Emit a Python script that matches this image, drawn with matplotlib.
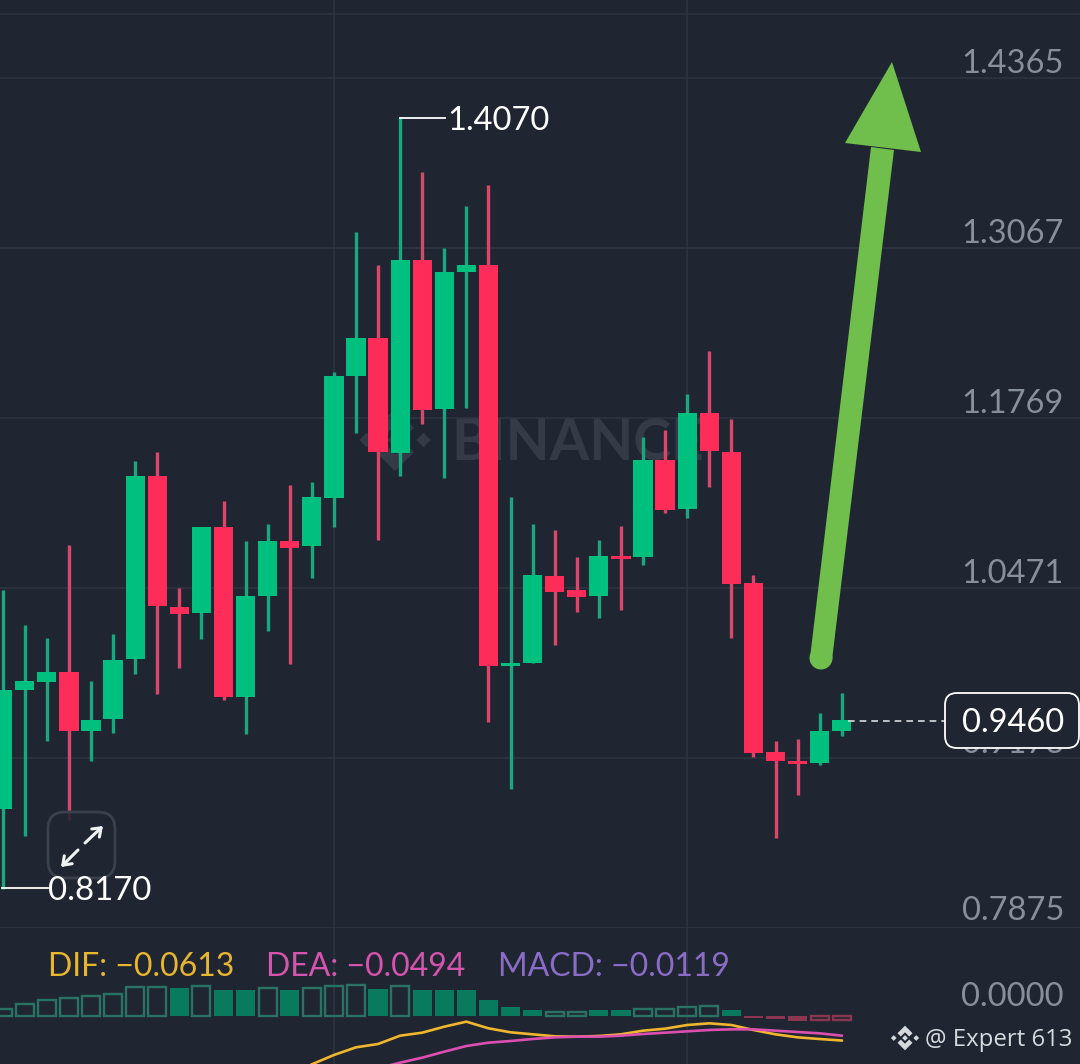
import numpy as np
import matplotlib
matplotlib.use("Agg")
import matplotlib.pyplot as plt
from matplotlib.patches import FancyBboxPatch, Polygon, Circle

# candles
opens = [0.8784, 0.9692, 0.9753, 0.9830, 0.9379, 0.9471, 0.9929, 1.1326, 1.0326, 1.0280,
         1.0937, 0.9639, 1.0410, 1.0830, 1.0792, 1.1158, 1.2090, 1.2380, 1.1502, 1.2975,
         1.1838, 1.2884, 1.2937, 0.9876, 0.9898, 1.0563, 1.0456, 1.0410, 1.0715, 1.0708,
         1.1448, 1.1074, 1.1807, 1.1509, 1.0509, 0.9219, 0.9150, 0.9135, 0.9379]
highs = [1.0456, 1.0189, 1.0089, 1.0799, 0.9761, 1.0120, 1.1441, 1.1509, 1.0471, 1.0937,
         1.1135, 1.0830, 1.0960, 1.1257, 1.1280, 1.2120, 1.3189, 1.2937, 1.4070, 1.3647,
         1.3067, 1.3388, 1.3548, 1.1166, 1.0960, 1.0914, 1.0708, 1.0837, 1.0944, 1.1624,
         1.1677, 1.1952, 1.2281, 1.1761, 1.0570, 0.9303, 0.9318, 0.9517, 0.9669]
lows = [0.8170, 0.8577, 0.9303, 0.8700, 0.9150, 0.9364, 0.9815, 0.9662, 0.9860, 1.0082,
        0.9616, 0.9356, 1.0143, 0.9891, 1.0547, 1.0937, 1.1654, 1.0837, 1.1326, 1.1723,
        1.1311, 1.1845, 0.9448, 0.8936, 0.9898, 1.0036, 1.0288, 1.0242, 1.0303, 1.0647,
        1.1044, 1.1005, 1.1242, 1.0089, 0.9181, 0.8562, 0.8890, 0.9120, 0.9341]
closes = [0.9692, 0.9761, 0.9830, 0.9379, 0.9463, 0.9921, 1.1326, 1.0334, 1.0273, 1.0937,
          0.9639, 1.0410, 1.0830, 1.0776, 1.1166, 1.2090, 1.2380, 1.1509, 1.2975, 1.1830,
          1.2884, 1.2937, 0.9876, 0.9898, 1.0570, 1.0440, 1.0402, 1.0715, 1.0692, 1.1448,
          1.1067, 1.1807, 1.1517, 1.0502, 0.9211, 0.9150, 0.9127, 0.9379, 0.9460]

price_ticks = [1.4365, 1.3067, 1.1769, 1.0471, 0.9173, 0.7875]
last_price = 0.9460

# macd histogram, one entry per candle
macd_vals = [0.0164, 0.0270, 0.0385, 0.0434, 0.0473, 0.0532, 0.0693, 0.0693, 0.0669, 0.0735,
             0.0637, 0.0637, 0.0679, 0.0637, 0.0679, 0.0718, 0.0752, 0.0654, 0.0711, 0.0630,
             0.0630, 0.0613, 0.0368, 0.0203, 0.0147, 0.0074, 0.0074, 0.0123, 0.0123,
             0.0154, 0.0154, 0.0220, 0.0238, 0.0140, -0.0056, -0.0074, -0.0123, -0.0119, -0.0119]
macd_hollow = [1, 1, 1, 1, 1, 1, 1, 1, 0, 1,
               0, 0, 1, 0, 1, 1, 1, 0, 1, 0,
               0, 0, 0, 0, 0, 1, 1, 0, 0,
               1, 1, 1, 1, 0, 0, 0, 0, 1, 1]
dif_vals = [-0.1196, -0.0968, -0.0780, -0.0698, -0.0494, -0.0421, -0.0274, -0.0151, -0.0314,
            -0.0412, -0.0461, -0.0510, -0.0519, -0.0502, -0.0461, -0.0372, -0.0323,
            -0.0233, -0.0192, -0.0233, -0.0355, -0.0461, -0.0535, -0.0576, -0.0613]
dea_vals = [-0.1294, -0.1156, -0.1033, -0.0886, -0.0747, -0.0666, -0.0625, -0.0576,
            -0.0535, -0.0519, -0.0519, -0.0494, -0.0453, -0.0421, -0.0388, -0.0355, -0.0339,
            -0.0339, -0.0372, -0.0404, -0.0437, -0.0494]

BG = "#1f2631"
GRID = "#2e3541"
GREEN = "#00c07f"
RED = "#fe2c58"
WICK_GREEN = "#1aa67f"
WICK_RED = "#d9486b"
GREY = "#878f9b"
W, H = 1080, 1064
PANE_Y = 928  # pixel row where the price pane stops
FONT = "Lato"


def binanceLogo(ax, cx, cy, s, color, zorder):
    # centre, two sides, then the top and bottom chevrons
    for dx, dy in [(0, 0), (-0.75, 0), (0.75, 0)]:
        r = 0.19
        ax.add_patch(Polygon([(cx + (dx - r) * s, cy + dy * s), (cx + dx * s, cy + (dy - r) * s),
                              (cx + (dx + r) * s, cy + dy * s), (cx + dx * s, cy + (dy + r) * s)],
                             fc=color, ec="none", zorder=zorder))
    for sign in (-1, 1):
        pts = [(-0.5, 0.32), (0, 0.82), (0.5, 0.32), (0.28, 0.1), (0, 0.38), (-0.28, 0.1)]
        ax.add_patch(Polygon([(cx + a * s, cy + sign * b * s) for a, b in pts],
                             fc=color, ec="none", zorder=zorder))


fig = plt.figure(figsize=(W / 100, H / 100), dpi=100, facecolor=BG)

# pixel layer under the candles, for the watermark
back = fig.add_axes([0, 0, 1, 1], zorder=0)
back.set_xlim(0, W)
back.set_ylim(H, 0)
back.set_facecolor(BG)
back.axis("off")
back.text(451, 443, "BINANCE", color="#343b46", fontsize=41, fontweight="bold", family=FONT,
          ha="left", va="center")
binanceLogo(back, 395, 440, 38, "#343b46", 1)

# price pane
ax = fig.add_axes([0, (H - PANE_Y) / H, 1, PANE_Y / H], zorder=1)
ax.patch.set_alpha(0)
step = 22.08
x_lim = (-2.7 / step, (W - 2.7) / step)
ax.set_xlim(x_lim)
per_px = (price_ticks[0] - price_ticks[1]) / 170
ax.set_ylim(price_ticks[-1], price_ticks[0] + 78 * per_px)
for s in ax.spines.values():
    s.set_visible(False)
ax.set_xticks([15, 31])
ax.set_yticks(price_ticks + [price_ticks[0] + 64 * per_px])
ax.tick_params(length=0, labelbottom=False, labelleft=False)
ax.grid(True, color=GRID, lw=1.1)
ax.set_axisbelow(True)

xs = np.arange(len(opens))
o = np.array(opens)
c = np.array(closes)
up = c >= o
ax.vlines(xs, lows, highs, colors=[WICK_GREEN if u else WICK_RED for u in up], lw=2.4, zorder=2)
ax.bar(xs, np.maximum(np.abs(c - o), 0.002), bottom=np.minimum(o, c), width=0.87,
       color=[GREEN if u else RED for u in up], zorder=3)

for t in price_ticks:
    # the lowest label sits a little higher than the others
    lift = 17 if t == price_ticks[-1] else 14
    ax.annotate("%.4f" % t, (1, t), xycoords=("axes fraction", "data"), xytext=(-16 * 0.72, lift * 0.72),
                textcoords="offset points", ha="right", va="center", color=GREY, fontsize=23.5, family=FONT,
                annotation_clip=False)

# macd pane
ax2 = fig.add_axes([0, 0, 1, (H - PANE_Y) / H], zorder=1)
ax2.patch.set_alpha(0)
ax2.set_xlim(x_lim)
macd_per_px = 0.00245
ax2.set_ylim((1015.5 - H) * macd_per_px, (1015.5 - PANE_Y) * macd_per_px)
for s in ax2.spines.values():
    s.set_visible(False)
ax2.set_xticks([15, 31])
ax2.set_yticks([])
ax2.tick_params(length=0, labelbottom=False, labelleft=False)
ax2.grid(True, axis="x", color=GRID, lw=1.1)
ax2.set_axisbelow(True)

for i, (v, hollow) in enumerate(zip(macd_vals, macd_hollow)):
    col = "#0a7a5e" if v > 0 else "#8b3650"
    if hollow:
        edge = "#2a7263" if v > 0 else "#8b3650"
        ax2.bar(i, v, width=0.82, facecolor="none", edgecolor=edge, lw=1.7, zorder=2)
    else:
        ax2.bar(i, v, width=0.87, color=col, zorder=2)

ax2.plot(np.arange(14, 39), dif_vals, color="#f1b62e", lw=1.9, zorder=3)
ax2.plot(np.arange(17, 39), dea_vals, color="#dc4fb0", lw=1.9, zorder=4)
ax2.annotate("0.0000", (1, 0), xycoords=("axes fraction", "data"), xytext=(-16 * 0.72, 19 * 0.72),
             textcoords="offset points", ha="right", va="center", color=GREY, fontsize=23.5, family=FONT,
             annotation_clip=False)

# everything that sits on top, in pixels
top = fig.add_axes([0, 0, 1, 1], zorder=3)
top.set_xlim(0, W)
top.set_ylim(H, 0)
top.patch.set_alpha(0)
top.axis("off")

# hand drawn arrow
top.add_patch(Polygon([(810, 658), (832, 660), (894, 150), (871, 147)], fc="#70bf4d", ec="none", zorder=5))
top.add_patch(Circle((821, 658), 11.5, fc="#70bf4d", ec="none", zorder=5))
top.add_patch(Polygon([(892, 62), (921, 152), (845, 143)], fc="#70bf4d", ec="none", zorder=5))

# high / low markers
top.plot([400, 445], [118, 118], color="white", lw=1.3)
top.text(447, 120.5, "1.4070", color="white", fontsize=23.5, family=FONT, va="center")
top.plot([2, 48], [888, 888], color="white", lw=1.3)

# expand button
top.add_patch(FancyBboxPatch((60, 824), 43, 42, boxstyle="round,pad=12,rounding_size=17",
                             fc=BG, alpha=0.85, ec="#3a414d", lw=1.8, zorder=4))
top.add_patch(FancyBboxPatch((60, 824), 43, 42, boxstyle="round,pad=12,rounding_size=17",
                             fc="none", ec="#3a414d", lw=1.8, zorder=4))
for tail, tip in [((78, 850), (61, 867)), ((85, 843), (103, 826))]:
    top.annotate("", xy=tip, xytext=tail, zorder=5,
                 arrowprops=dict(arrowstyle="->,head_length=0.55,head_width=0.4", color="#f0f2f4", lw=2.2,
                                 shrinkA=0, shrinkB=0))
top.text(48, 891, "0.8170", color="white", fontsize=23.8, family=FONT, va="center", zorder=6)

# last price tag
top.plot([848, 945], [721, 721], color="#d8dbdf", lw=1.2, ls=(0, (4, 3)))
top.add_patch(FancyBboxPatch((957, 705), 110, 31, boxstyle="round,pad=12,rounding_size=12",
                             fc=BG, ec="white", lw=1.3, zorder=4))
top.text(1013, 723.5, "%.4f" % last_price, color="white", fontsize=23.5, family=FONT, ha="center", va="center", zorder=5)

# macd legend
top.text(48, 966.5, "DIF: \u22120.0613", color="#e8b52e", fontsize=23, family=FONT, va="center")
top.text(266, 966.5, "DEA: \u22120.0494", color="#d653ae", fontsize=23, family=FONT, va="center")
top.text(498, 966.5, "MACD: \u22120.0119", color="#8a6cc6", fontsize=23, family=FONT, va="center")

# credit
binanceLogo(top, 905, 1038, 15, "#d5d9de", 5)
top.text(925, 1040, "@ Expert 613", color="#d5d9de", fontsize=17.3, family="Open Sans", va="center")

fig.savefig("out.png", dpi=100, facecolor=BG)
plt.close(fig)
